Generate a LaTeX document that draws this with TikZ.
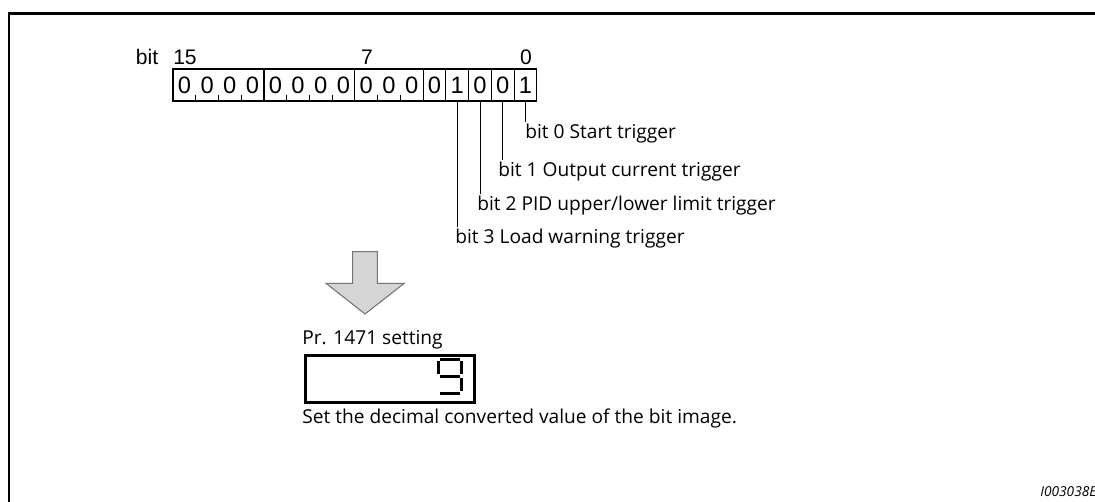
\documentclass[tikz,border=0pt]{standalone}
\usepackage{fontspec}
\setmainfont{Open Sans}
\newfontfamily\regfont{Liberation Sans}
\usetikzlibrary{positioning, calc}

\newcommand{\dg}[1]{\makebox[0.455cm]{#1}}

\begin{document}
\begin{tikzpicture}[
  x=0.02cm, y=-0.02cm,
  frame/.style ={line width=1.7pt},
  grp/.style   ={draw, line width=0.6pt, inner sep=0pt, outer sep=0pt, minimum height=0.64cm,
                 font=\regfont\fontsize{13.5}{15}\selectfont},
  cell/.style  ={grp, minimum width=0.455cm},
  hdr/.style   ={inner sep=0pt, font=\regfont\fontsize{12}{14}\selectfont},
  txt/.style   ={inner sep=0pt, anchor=west, font=\fontsize{10.9}{13}\selectfont},
  lead/.style  ={line width=0.6pt},
  tick/.style  ={line width=0.6pt},
  bigarr/.style={fill=gray!33, draw=gray!90!black, line width=0.6pt},
  disp/.style  ={draw, line width=1.5pt, minimum width=3.38cm, minimum height=0.95cm,
                 inner sep=0pt},
  seg/.style   ={line width=1.8pt},
]
\useasboundingbox (0,0) rectangle (1095,502);

%% ---- Outer frame (cut at right and bottom) ----
\draw[frame] (1100,14) -- (9,14) -- (9,510);

%% ---- Bit register ----
\node[grp, anchor=north west] (g15) at (173,69) {\dg0\dg0\dg0\dg0};
\node[grp, right=0pt of g15] (g11) {\dg0\dg0\dg0\dg0};
\node[grp, right=0pt of g11] (g7)  {\dg0\dg0\dg0};
\node[cell, right=0pt of g7] (b4) {0};
\node[cell, right=0pt of b4] (b3) {1};
\node[cell, right=0pt of b3] (b2) {0};
\node[cell, right=0pt of b2] (b1) {0};
\node[cell, right=0pt of b1] (b0) {1};

%% ticks between digits inside groups
\draw[tick] ($(g15.south west)!0.25!(g15.south east)$) -- ++(0,-6);
\draw[tick] ($(g15.south west)!0.50!(g15.south east)$) -- ++(0,-6);
\draw[tick] ($(g15.south west)!0.75!(g15.south east)$) -- ++(0,-6);
\draw[tick] ($(g11.south west)!0.25!(g11.south east)$) -- ++(0,-6);
\draw[tick] ($(g11.south west)!0.50!(g11.south east)$) -- ++(0,-6);
\draw[tick] ($(g11.south west)!0.75!(g11.south east)$) -- ++(0,-6);
\draw[tick] ($(g7.south west)!0.333!(g7.south east)$) -- ++(0,-6);
\draw[tick] ($(g7.south west)!0.667!(g7.south east)$) -- ++(0,-6);

%% ---- Bit numbers ----
\node[hdr] (lbit) at (147,57) {bit};
\node[hdr] (n15)  at (185,57.5) {15};
\node[hdr] (n7)   at (367,57.5) {7};
\node[hdr] (n0)   at (526,57.5) {0};

%% ---- Bit meanings ----
\node[txt] (t0) at (525,134) {bit 0 Start trigger};
\node[txt] (t1) at (498,172) {bit 1 Output current trigger};
\node[txt] (t2) at (477,205.5) {bit 2 PID upper/lower limit trigger};
\node[txt] (t3) at (455,239) {bit 3 Load warning trigger};

\draw[lead] (b0.south) -- ($(b0.south |- t0.north)+(0,-2)$);
\draw[lead] (b1.south) -- ($(b1.south |- t1.north)+(0,-2)$);
\draw[lead] (b2.south) -- ($(b2.south |- t2.north)+(0,-2)$);
\draw[lead] (b3.south) -- ($(b3.south |- t3.north)+(0,-2)$);

%% ---- Block arrow ----
\draw[bigarr] (352.7,251.7) -- (377.3,251.7) -- (377.3,283.3) -- (404.3,283.3)
  -- (365,314) -- (326,283.3) -- (352.7,283.3) -- cycle;

%% ---- Parameter setting ----
\node[txt] (prlbl) at (302,340) {Pr. 1471 setting};
\node[disp, anchor=north west] (disp) at (304,354) {};
\coordinate (d9) at (437,358);
\draw[seg] ($(d9)+(3,1.5)$) -- ($(d9)+(23,1.5)$);
\draw[seg] ($(d9)+(1.5,3.5)$) -- ($(d9)+(1.5,16.5)$);
\draw[seg] ($(d9)+(24.5,3.5)$) -- ($(d9)+(24.5,16.5)$);
\draw[seg] ($(d9)+(3,18.5)$) -- ($(d9)+(23,18.5)$);
\draw[seg] ($(d9)+(24.5,20.5)$) -- ($(d9)+(24.5,33.5)$);
\draw[seg] ($(d9)+(3,35.5)$) -- ($(d9)+(23,35.5)$);
\node[txt] (note) at (302,418) {Set the decimal converted value of the bit image.};

%% ---- Figure id ----
\node[txt, font=\itshape\fontsize{7.8}{9}\selectfont] (figid) at (1040,492) {I003038E};

\end{tikzpicture}
\end{document}
